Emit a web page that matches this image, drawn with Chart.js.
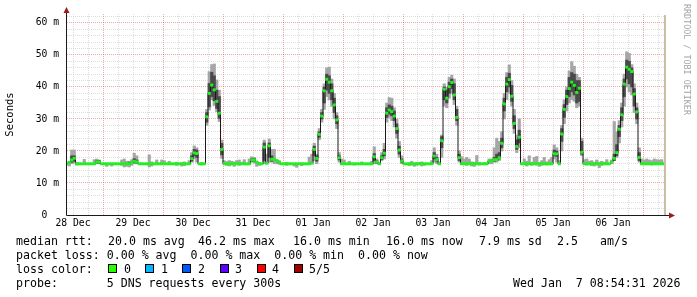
<!DOCTYPE html>
<html>
<head>
<meta charset="utf-8">
<script src="https://cdn.jsdelivr.net/npm/chart.js@4.4.1/dist/chart.umd.min.js"></script>
<style>
  html, body { margin: 0; padding: 0; background: #fff; }
  #wrap { position: relative; width: 697px; height: 297px; overflow: hidden; background: #fff; }
  .t { position: absolute; font: 11.6px "DejaVu Sans Mono", monospace; white-space: pre; color: #000; line-height: 14px; }
  .sw { position: absolute; top: 264px; width: 7px; height: 7px; border: 1px solid #000; }
  #credit { position: absolute; left: 682px; top: 4px; writing-mode: vertical-rl; font: 8.4px "DejaVu Sans Mono", monospace; color: #a4a4a4; }
</style>
</head>
<body>
<div id="wrap">
  <canvas id="myChart" width="697" height="297"></canvas>
  <div id="credit">RRDTOOL / TOBI OETIKER</div>
  <div class="t" style="left:16px;top:234px">median rtt:</div>
  <div class="t" style="left:108px;top:234px">20.0 ms avg</div>
  <div class="t" style="left:198px;top:234px">46.2 ms max</div>
  <div class="t" style="left:293px;top:234px">16.0 ms min</div>
  <div class="t" style="left:386px;top:234px">16.0 ms now</div>
  <div class="t" style="left:479px;top:234px">7.9 ms sd</div>
  <div class="t" style="left:557px;top:234px">2.5</div>
  <div class="t" style="left:600px;top:234px">am/s</div>
  <div class="t" style="left:16px;top:248px">packet loss: 0.00 % avg  0.00 % max  0.00 % min  0.00 % now</div>
  <div class="t" style="left:16px;top:262px">loss color:</div>
  <div class="sw" style="left:108px;background:#26ff00"></div><div class="t" style="left:124px;top:262px">0</div>
  <div class="sw" style="left:145px;background:#00b8ff"></div><div class="t" style="left:161px;top:262px">1</div>
  <div class="sw" style="left:182px;background:#0059ff"></div><div class="t" style="left:198px;top:262px">2</div>
  <div class="sw" style="left:220px;background:#5e00ff"></div><div class="t" style="left:235px;top:262px">3</div>
  <div class="sw" style="left:257px;background:#ff0000"></div><div class="t" style="left:272px;top:262px">4</div>
  <div class="sw" style="left:294px;background:#a00000"></div><div class="t" style="left:309px;top:262px">5/5</div>
  <div class="t" style="left:16px;top:276px">probe:       5 DNS requests every 300s</div>
  <div class="t" style="left:513px;top:276px">Wed Jan  7 08:54:31 2026</div>
</div>
<script>
// hours counted from 28 Dec 00:00, one bin per hour
const startHour = 9;
const dayLabels = ["28 Dec", "29 Dec", "30 Dec", "31 Dec", "01 Jan", "02 Jan", "03 Jan", "04 Jan", "05 Jan", "06 Jan"];

// median rtt (ms), hourly
const median = [
  // 28 Dec 09-23
  16, 16.4, 17.2, 17.7, 16, 16, 16, 16, 16, 16, 16, 16, 16.6, 16.6, 16,
  // 29 Dec
  16, 16, 16, 16, 16, 16, 16, 16, 16, 16, 16, 16.3, 16.8, 16.6, 16, 16, 16, 16, 16, 16, 16, 16, 16, 16,
  // 30 Dec
  16, 16, 16, 16, 16, 16, 16, 16, 16, 16, 16, 17.6, 19.4, 19.2, 16, 16, 16, 30.7, 38, 40.6, 39.1, 35.5, 31.8, 20.5,
  // 31 Dec
  16, 16, 16, 16, 16, 16, 16, 16, 16, 16, 16, 17.2, 17.2, 16.5, 16, 16, 21.2, 16.2, 21.6, 17.4, 17.4, 17.0, 16.4, 16,
  // 01 Jan
  16, 16, 16, 16, 16, 16, 16, 16, 16, 16, 16, 16.2, 20.5, 17.7, 25.2, 30.9, 38.8, 42.4, 41.5, 38.8, 34.4, 29.7, 17.9, 16,
  // 02 Jan
  16, 16, 16, 16, 16, 16, 16, 16, 16, 16, 16, 16, 18.2, 16.6, 16, 17.9, 19.3, 31.8, 32.8, 32.3, 30.9, 27.0, 20.3, 16.9,
  // 03 Jan
  16, 16, 16, 16, 16, 16, 16, 16, 16, 16, 16, 16, 18.4, 17.3, 16, 23.2, 39.3, 36.5, 40.1, 41.4, 37.5, 30.5, 17.9, 16,
  // 04 Jan
  16, 16, 16, 16, 16, 16, 16, 16, 16, 16, 16.9, 16.9, 17.3, 17.3, 17.9, 22.4, 34.7, 40.9, 42.3, 37.1, 28.6, 21.4, 24.3, 16,
  // 05 Jan
  16, 16, 16, 16, 16, 16, 16, 16, 16, 16, 16, 16, 19.1, 19.1, 16, 25.3, 33, 37, 39.5, 41.5, 40.5, 38.3, 39.6, 19.6,
  // 06 Jan
  16, 16, 16, 16, 16, 16, 16, 16, 16, 16, 16, 16.6, 17.7, 19.5, 26.8, 31.3, 40.9, 46.2, 45.5, 44.8, 37.8, 32.2, 18, 16,
  // 07 Jan 00-08
  16, 16, 16, 16, 16, 16, 16, 16, 16
];

// outer smoke [hour, low, high]
const lightSmoke = [
  [10, 15.3, 16.8], [11, 16, 20.3], [12, 16.2, 20.3], [13, 15.6, 16.5], [16, 16, 17.4], [20, 16, 17.3], [21, 16, 17.5], [22, 16, 17.2],
  [25, 15.2, 16], [27, 15.3, 16], [31, 15.5, 17.2], [32, 15, 17.5], [33, 15.2, 16.8], [34, 15, 16.8], [35, 15.5, 17.3], [36, 16, 19.3],
  [37, 16, 18.5], [42, 15, 18.8], [43, 15.3, 16.6], [45, 16, 17.2], [47, 16, 17.2],
  [48, 16, 17], [50, 15.8, 16.8], [53, 15.5, 16.5], [55, 15.3, 16.3], [56, 15.4, 16.6], [58, 16, 17], [59, 16.5, 19.5], [60, 17.5, 21.6],
  [61, 16.5, 21], [63, 15.6, 16.4],
  [65, 28, 33], [66, 32.8, 44.8], [67, 36, 47], [68, 34.2, 47.2], [69, 32.3, 42.2], [70, 29.2, 39], [71, 17.7, 23.4],
  [72, 16, 17], [73, 15.5, 16.7], [74, 15.3, 17], [75, 15.6, 16.8], [76, 15.2, 16.6], [77, 15.8, 17], [78, 15.5, 17.2], [79, 15.8, 16.5],
  [80, 16, 17.3], [82, 16, 17.5], [83, 16.5, 18.2], [84, 16.2, 18], [85, 15.2, 16.8], [86, 15.5, 16.4],
  [88, 16, 23.4], [89, 16, 19], [90, 16.5, 23.7], [91, 16.5, 20.5], [92, 16, 20.5], [93, 16, 17.2], [94, 15.8, 17],
  [97, 15.5, 16.5], [100, 15.3, 16], [101, 14.9, 16], [103, 15.4, 16.2], [106, 16, 18.1], [107, 16, 19], [108, 17, 22.4], [109, 16, 19],
  [110, 23.5, 27], [111, 29, 33], [112, 33, 41], [113, 37, 46], [114, 36, 46.2], [115, 34, 42.5], [116, 30, 38], [117, 27, 32],
  [118, 16.5, 19.5], [119, 16, 17.5], [120, 16, 17.2], [122, 16, 16.8],
  [124, 15.6, 16], [127, 15.8, 16.6], [131, 16, 16.8], [132, 16, 21.3], [133, 16, 17.5], [134, 15.8, 16.5], [135, 17, 19.5], [136, 17.5, 22.4],
  [137, 29, 35], [138, 30.5, 36.7], [139, 29.5, 36.5], [140, 27.5, 33.5], [141, 24, 30], [142, 18, 23], [143, 16, 18.5],
  [146, 15.4, 16.3], [147, 15.6, 16.8], [148, 15.2, 16], [149, 15.5, 16.5], [150, 15.8, 16.4], [151, 15.3, 16.6], [152, 15.5, 16.2],
  [155, 16, 17], [156, 16.5, 21], [157, 16, 19], [158, 15.8, 16.6],
  [159, 18, 25], [160, 34, 41], [161, 33.5, 40], [162, 36.5, 43], [163, 38, 43.7], [164, 34.5, 42.5], [165, 28, 34], [166, 16.5, 20],
  [167, 16, 18.2], [168, 16, 17.5],
  [169, 15.5, 18], [170, 16, 17.5], [171, 15.3, 16.6], [172, 15.2, 16.5], [173, 16, 18.6], [174, 15.6, 16.5], [176, 15.8, 16.4],
  [178, 16, 17.5], [179, 16, 17.5], [180, 16.5, 21], [181, 16.5, 24], [182, 17, 23],
  [183, 20, 26], [184, 30, 38], [185, 36, 44.5], [186, 38, 46.9], [187, 34, 42], [188, 25.5, 33], [189, 19.5, 25], [190, 21, 30],
  [192, 16, 17.5], [193, 15.3, 16.8], [194, 16, 18.5], [195, 15.5, 16.5], [196, 16, 18], [197, 15.6, 18.3], [198, 15.2, 16.4],
  [199, 15.5, 17], [200, 16, 18], [201, 15.6, 16.6], [202, 16, 17.3], [203, 16, 18],
  [204, 17.5, 21.9], [205, 16.5, 21], [206, 16, 17], [207, 20, 28], [208, 28.5, 36], [209, 32.5, 40], [210, 35, 45], [211, 36, 47.9],
  [212, 35.5, 46.5], [213, 33.5, 44], [214, 34, 43], [215, 18.5, 24],
  [216, 16, 17.3], [217, 15.6, 17.5], [218, 15.8, 16.8], [219, 15.4, 17], [220, 15.3, 16.5], [221, 15.6, 17.2], [222, 14.8, 16.5],
  [223, 15.5, 16.8], [224, 15.8, 16.5], [225, 16, 17.3], [227, 16, 17.2], [228, 17.5, 29.2], [229, 18, 26], [230, 22.5, 29.5],
  [231, 27.5, 35], [232, 34, 44], [233, 40, 51], [234, 38.5, 50.5], [235, 37.5, 47], [236, 32, 41], [237, 28.5, 35], [238, 16.5, 21],
  [239, 16, 17.5],
  [240, 16, 17.2], [241, 15.8, 17.5], [242, 16, 17.2], [243, 15.6, 17], [244, 16, 17.5], [245, 16, 17.3], [246, 15.8, 17.2], [247, 16, 17.3]
];

// inner smoke [hour, low, high]
const darkSmoke = [
  [11, 16.5, 18.5], [12, 16.8, 18.5], [21, 16.2, 17], [22, 16.2, 17], [34, 15.8, 16.5], [36, 16.3, 17.6], [37, 16.2, 17.2],
  [59, 16.8, 18.5], [60, 18.5, 20.5], [61, 18, 20.3],
  [65, 29, 32], [66, 33.8, 41.1], [67, 37, 44.6], [68, 35.7, 43.5], [69, 33.3, 39], [70, 30.2, 37], [71, 18.8, 22.4],
  [83, 16.8, 17.6], [84, 16.8, 17.6], [88, 17, 22.5], [90, 18, 22.5], [91, 16.8, 18.5],
  [108, 18.5, 21.5], [109, 16.8, 18.5],
  [110, 24.3, 26], [111, 30, 32], [112, 35, 40], [113, 39, 44], [114, 38, 43.5], [115, 36, 41], [116, 32, 36.5], [117, 28.5, 31], [118, 17.2, 18.5],
  [132, 17, 19.2], [133, 16.2, 17], [135, 17.3, 18.5], [136, 18.5, 20.5],
  [137, 30.5, 33.5], [138, 31.5, 34.4], [139, 31, 34], [140, 29.5, 32.5], [141, 25.5, 28.5], [142, 19, 21.5], [143, 16.5, 17.5],
  [156, 17.5, 19.5], [157, 16.8, 18],
  [159, 21, 24.5], [160, 36, 40], [161, 35, 39], [162, 38, 41.5], [163, 39.5, 42.5], [164, 36, 41], [165, 29.5, 33], [166, 17, 19],
  [180, 16.8, 18], [181, 17, 19], [182, 17.5, 19.5],
  [183, 21, 24], [184, 32.5, 36.5], [185, 38.5, 43], [186, 40, 44.3], [187, 35.5, 40.5], [188, 27, 31], [189, 20.5, 23.5], [190, 22.5, 26.5],
  [204, 18.5, 20.3], [205, 18.3, 20],
  [207, 23, 27], [208, 30.5, 34.5], [209, 34.5, 39], [210, 37, 43], [211, 38.5, 44.5], [212, 37.5, 44], [213, 35, 42], [214, 35.5, 42], [215, 19, 23],
  [228, 17, 19], [229, 18.5, 22], [230, 24.5, 28], [231, 29.5, 33.5], [232, 37, 42.5], [233, 42.5, 48.4], [234, 41, 48],
  [235, 40, 46], [236, 34, 39.5], [237, 30, 33.5], [238, 17, 19.5]
];

const bandHalf = 0.35; // half height of the loss-colour band
const minorGrid = "rgba(150,150,150,0.32)";
const majorGrid = "rgba(225,80,80,0.5)";

const xTicks = [];
for (let h = 12; h <= 246; h += 6) xTicks.push(h);
const yTicks = [];
for (let v = 0; v <= 62; v += 2) yTicks.push(v);

const medianPts = median.map((m, i) => ({ x: startHour + i + 0.5, y: m }));
const bandPts = median.map((m, i) => ({ x: startHour + i + 0.5, y: [m - bandHalf, m + bandHalf] }));
const lightPts = lightSmoke.map((s) => ({ x: s[0] + 0.5, y: [s[1], s[2]] }));
const darkPts = darkSmoke.map((s) => ({ x: s[0] + 0.5, y: [s[1], s[2]] }));

const decor = {
  id: "decor",
  afterDraw: (chart) => {
    const { ctx, chartArea } = chart;
    const { left, right, top, bottom } = chartArea;
    ctx.save();
    // beige end marker
    ctx.fillStyle = "#c8c0a0";
    ctx.fillRect(right - 1, top + 1, 2, bottom - top - 1);
    // axes
    ctx.strokeStyle = "#1a1a1a";
    ctx.lineWidth = 1;
    ctx.beginPath();
    ctx.moveTo(left - 0.5, bottom + 0.5);
    ctx.lineTo(right + 6, bottom + 0.5);
    ctx.moveTo(left - 0.5, bottom + 0.5);
    ctx.lineTo(left - 0.5, top - 2);
    ctx.stroke();
    // arrows
    ctx.fillStyle = "#9a1c1c";
    ctx.beginPath();
    ctx.moveTo(left - 0.5, top - 7);
    ctx.lineTo(left - 3.5, top - 1);
    ctx.lineTo(left + 2.5, top - 1);
    ctx.closePath();
    ctx.fill();
    ctx.beginPath();
    ctx.moveTo(right + 10, bottom + 0.5);
    ctx.lineTo(right + 4, bottom - 2.5);
    ctx.lineTo(right + 4, bottom + 3.5);
    ctx.closePath();
    ctx.fill();
    ctx.restore();
  },
};

Chart.defaults.font.family = '"DejaVu Sans Mono", monospace';

const ctx = document.getElementById("myChart");
new Chart(ctx, {
  type: "bar",
  data: {
    datasets: [
      { type: "bar", data: lightPts, backgroundColor: "#a6a6a6", grouped: false, order: 4, categoryPercentage: 1, barPercentage: 1 },
      { type: "bar", data: darkPts, backgroundColor: "#4a4a4a", grouped: false, order: 3, categoryPercentage: 1, barPercentage: 1 },
      { type: "line", data: medianPts, borderColor: "#1a1a1a", borderWidth: 1, pointRadius: 0, stepped: "middle", fill: false, order: 2 },
      { type: "bar", data: bandPts, backgroundColor: "#22f022", grouped: false, order: 1, categoryPercentage: 1, barPercentage: 1 },
    ],
  },
  options: {
    responsive: false,
    animation: false,
    events: [],
    layout: { padding: { top: 14, right: 32, bottom: 62, left: 0 } },
    plugins: { legend: { display: false }, tooltip: { enabled: false } },
    scales: {
      x: {
        type: "linear",
        min: 9.6,
        max: 248.8,
        offset: false,
        afterBuildTicks: (s) => { s.ticks = xTicks.map((v) => ({ value: v })); },
        afterFit: (s) => { s.height = 20; },
        grid: {
          offset: false,
          drawTicks: false,
          color: (c) => (c.tick && c.tick.value % 24 === 0 ? majorGrid : minorGrid),
        },
        border: { display: false, dash: [1, 1] },
        ticks: {
          autoSkip: false,
          maxRotation: 0,
          padding: 3,
          color: "#000",
          font: { size: 9.7 },
          callback: (v) => (v % 24 === 12 ? dayLabels[(v - 12) / 24] : ""),
        },
      },
      y: {
        min: 0,
        max: 62.8,
        afterBuildTicks: (s) => { s.ticks = yTicks.map((v) => ({ value: v })); },
        afterFit: (s) => { s.width = 67; },
        title: { display: true, text: "Seconds", color: "#000", font: { size: 10.5 }, padding: { top: 4, bottom: 0 } },
        grid: {
          drawTicks: false,
          color: (c) => (c.tick && c.tick.value % 10 === 0 ? majorGrid : minorGrid),
        },
        border: { display: false, dash: [1, 1] },
        ticks: {
          autoSkip: false,
          padding: 8,
          color: "#000",
          font: { size: 9.7 },
          callback: (v) => (v === 0 ? "0  " : v % 10 === 0 ? v + " m" : ""),
        },
      },
    },
  },
  plugins: [decor],
});
</script>
</body>
</html>
